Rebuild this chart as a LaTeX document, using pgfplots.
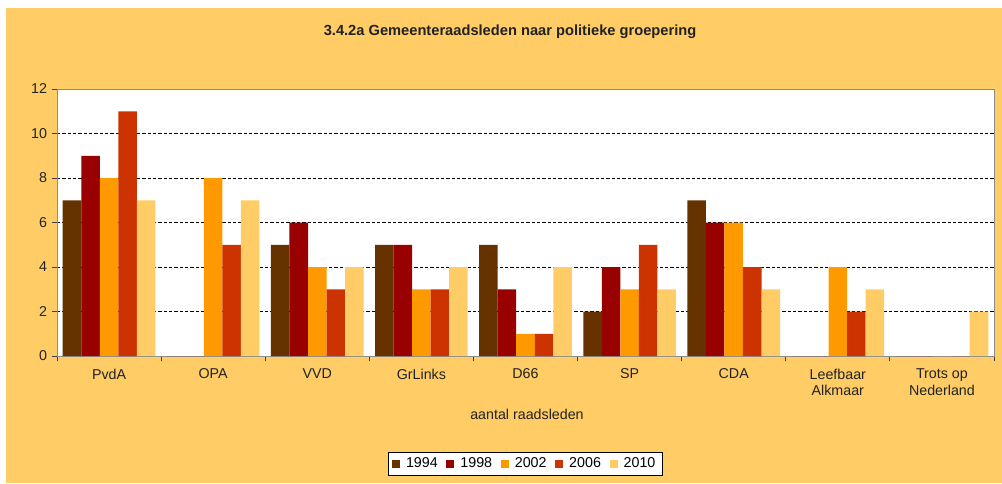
\documentclass[border=0pt]{standalone}
\usepackage{pgfplots}
\pgfplotsset{compat=1.18}
\usepackage{fontspec}
\setmainfont{Liberation Sans}

\definecolor{bg}{HTML}{FFCC66}
\definecolor{c94}{HTML}{663300}
\definecolor{c98}{HTML}{990000}
\definecolor{c02}{HTML}{FF9900}
\definecolor{c06}{HTML}{CC3300}
\definecolor{c10}{HTML}{FFCC66}
\definecolor{axgray}{HTML}{8C8C8C}
\definecolor{txt}{HTML}{222222}

\begin{document}
\begin{tikzpicture}
% chart area (1px = 0.75pt)
\fill[white] (0,0) rectangle (751.5pt,362.25pt);
\fill[bg] (4.5pt,0) rectangle (751.5pt,356.25pt);
\begin{axis}[
    at={(42.75pt,95.25pt)}, anchor=south west,
    scale only axis, width=702.75pt, height=200.25pt,
    axis background/.style={fill=white},
    axis line style={axgray},
    ybar=0pt, bar width=0.178,
    xmin=-0.5, xmax=8.5, ymin=0, ymax=12,
    xtick={-0.5,0.5,...,8.5},
    x tick label as interval,
    xticklabels={PvdA,OPA,VVD,GrLinks,D66,SP,CDA,{Leefbaar\\Alkmaar},{Trots op\\Nederland}},
    xticklabel style={align=center, anchor=north, yshift=-2pt},
    ytick={0,2,...,12},
    ymajorgrids,
    major grid style={black, dash pattern=on 2.5pt off 1.5pt, line width=0.6pt},
    tick align=outside, tick pos=left, major tick length=4pt,
    tick style={black!75, line width=0.6pt},
    ticklabel style={font=\fontsize{10.7}{12.5}\selectfont, text=txt},
    /pgf/number format/assume math mode=true,
    title={3.4.2a Gemeenteraadsleden naar politieke groepering},
    title style={at={(0.4835,1.1835)}, anchor=center, yshift=0pt, font=\fontsize{11}{13}\selectfont\bfseries, text=txt},
    xlabel={aantal raadsleden},
    xlabel style={at={(0.5016,-0.217)}, anchor=center, font=\fontsize{10.7}{12.5}\selectfont, text=txt},
    legend style={at={(0.4995,-0.4045)}, anchor=center, legend columns=-1,
        draw=black, fill=white, font=\fontsize{10.7}{12.5}\selectfont,
        /tikz/every odd column/.append style={column sep=2.5pt},
        /tikz/every even column/.append style={column sep=4.5pt}},
    sq/.style={legend image code/.code={\fill[##1] (0pt,-3pt) rectangle (6pt,3pt);}},
]
\addplot[fill=c94, draw=none, sq] coordinates {(0,7) (1,0) (2,5) (3,5) (4,5) (5,2) (6,7) (7,0) (8,0)};
\addplot[fill=c98, draw=none, sq] coordinates {(0,9) (1,0) (2,6) (3,5) (4,3) (5,4) (6,6) (7,0) (8,0)};
\addplot[fill=c02, draw=none, sq] coordinates {(0,8) (1,8) (2,4) (3,3) (4,1) (5,3) (6,6) (7,4) (8,0)};
\addplot[fill=c06, draw=none, sq] coordinates {(0,11) (1,5) (2,3) (3,3) (4,1) (5,5) (6,4) (7,2) (8,0)};
\addplot[fill=c10, draw=none, sq] coordinates {(0,7) (1,7) (2,4) (3,4) (4,4) (5,3) (6,3) (7,3) (8,2)};
\legend{1994,1998,2002,2006,2010}
\end{axis}
\end{tikzpicture}
\end{document}
